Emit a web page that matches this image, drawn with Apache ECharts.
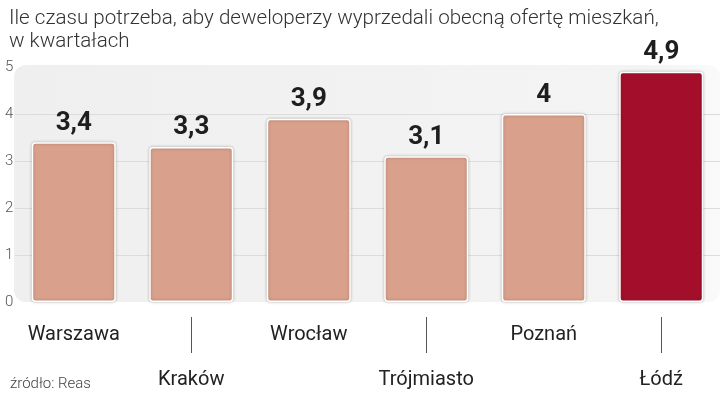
<!DOCTYPE html>
<html><head><meta charset="utf-8">
<script src="https://cdn.jsdelivr.net/npm/echarts@6/dist/echarts.min.js"></script>
<style>html,body{margin:0;padding:0;background:#fff}#c{width:720px;height:395px}</style>
</head><body><div id="c"></div>
<script>
const categories = ['Warszawa','Kraków','Wrocław','Trójmiasto','Poznań','Łódź'];
const values = [3.4, 3.3, 3.9, 3.1, 4, 4.9];
const yTicks = [0, 1, 2, 3, 4, 5];
const highlightIndex = 5;
const titleText = 'Ile czasu potrzeba, aby deweloperzy wyprzedali obecną ofertę mieszkań,\nw kwartałach';
const sourceText = 'źródło: Reas';

const chart = echarts.init(document.getElementById('c'), null, {renderer: 'canvas'});
chart.setOption({
  animation: false,
  backgroundColor: '#fff',
  title: [
    {text: titleText, left: 4, top: 2,
     textStyle: {fontFamily: 'Roboto', fontWeight: 300, fontSize: 20.6, color: '#333', lineHeight: 23}},
    {text: sourceText, left: 5, top: 372,
     textStyle: {fontFamily: 'Roboto', fontWeight: 300, fontSize: 15, color: '#444'}}
  ],
  graphic: [{
    type: 'rect', z: -10, silent: true,
    shape: {x: 14, y: 65, width: 706, height: 237, r: 12},
    style: {fill: new echarts.graphic.LinearGradient(0, 0, 1, 0, [
      {offset: 0, color: '#efefef'}, {offset: 0.9, color: '#f4f4f4'}, {offset: 1, color: '#fafafa'}])}
  }],
  grid: {left: 15, right: 0, top: 67, bottom: 93, containLabel: false, outerBoundsMode: 'none'},
  xAxis: [{
    type: 'category', data: categories,
    axisLine: {show: false}, axisTick: {show: false},
    axisLabel: {
      interval: 0, margin: 10, lineHeight: 45, verticalAlign: 'top',
      fontFamily: 'Roboto', fontSize: 20, color: '#222',
      formatter: (v, i) => (i % 2 ? '\n' + v : v)
    }
  }, {
    type: 'category', data: categories, position: 'bottom', offset: 15,
    axisLine: {show: false}, axisLabel: {show: false},
    axisTick: {show: true, alignWithLabel: true, length: 36,
      interval: (i) => i % 2 === 1,
      lineStyle: {color: '#555', width: 1}}
  }],
  yAxis: {
    type: 'value', min: yTicks[0], max: yTicks[yTicks.length - 1], interval: 1,
    axisLine: {show: false}, axisTick: {show: false},
    axisLabel: {align: 'left', margin: 10, fontFamily: 'Roboto', fontWeight: 300, fontSize: 15, color: '#555'},
    splitLine: {show: true, lineStyle: {color: ['transparent', '#dcdcdc', '#dcdcdc', '#dcdcdc', '#dcdcdc', 'transparent'], width: 1}}
  },
  series: [{
    type: 'bar', xAxisIndex: 0, barWidth: '71.5%',
    data: values.map((v, i) => ({
      value: v,
      itemStyle: {color: i === highlightIndex ? '#a30f2b' : '#d9a08b'}
    })),
    itemStyle: {borderColor: '#fff', borderWidth: 1.5, borderRadius: 3,
      shadowBlur: 3, shadowColor: 'rgba(0,0,0,0.25)'},
    label: {show: true, position: 'top', distance: 6,
      fontFamily: 'Roboto',
      fontWeight: 'bold', fontSize: 26, color: '#1e1e1e',
      formatter: (p) => String(p.value).replace('.', ',')}
  }]
});
</script></body></html>
